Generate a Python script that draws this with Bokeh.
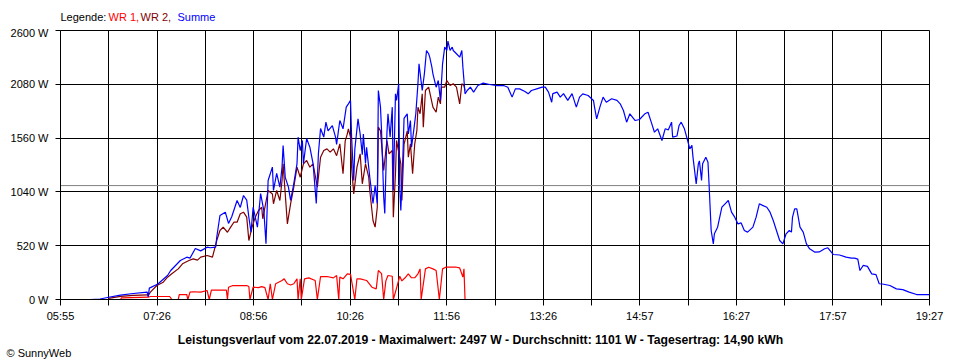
from bokeh.plotting import figure
from bokeh.layouts import column
from bokeh.models import Range1d, FixedTicker, Span, Label, Title
from bokeh.embed import file_html
from bokeh.resources import INLINE

# ---- axis definition (minutes since midnight) ----
x_start, x_end = 355, 1167          # 05:55 .. 19:27
x_tick_labels = ["05:55", "", "07:26", "", "08:56", "", "10:26", "", "11:56", "",
                 "13:26", "", "14:57", "", "16:27", "", "17:57", "", "19:27"]
y_ticks = [0, 520, 1040, 1560, 2080, 2600]
y_tick_labels = ["0 W", "520 W", "1040 W", "1560 W", "2080 W", "2600 W"]
average_w = 1101

title_text = ("Leistungsverlauf vom 22.07.2019 - Maximalwert: 2497 W - "
              "Durchschnitt: 1101 W - Tagesertrag: 14,90 kWh")
legend_texts = ["Legende:", "WR 1,", "WR 2,", "Summe"]
copyright_text = "\u00a9 SunnyWeb"

# ---- Summe (blue) ----
summe_t = [383, 392, 400, 411, 423, 436, 437, 438, 446, 455,
           458, 467, 473, 476, 481, 486, 492, 495, 500, 501,
           504, 509, 512, 515, 520, 523, 526, 529, 531, 533,
           535, 539, 542, 545, 547, 549, 553, 554, 557, 560,
           562, 563, 565, 568, 570, 573, 576, 577, 579, 581,
           582, 585, 588, 591, 594, 596, 598, 601, 603, 605,
           609, 612, 613, 616, 619, 622, 624, 626, 627, 629,
           630, 633, 635, 637, 638, 640, 641, 644, 647, 649,
           651, 652, 654, 655, 657, 658, 660, 661, 663, 665,
           666, 668, 669, 671, 672, 673, 675, 676, 679, 680,
           682, 683, 685, 687, 689, 690, 693, 695, 697, 699,
           700, 702, 703, 706, 708, 710, 712, 714, 716, 717,
           719, 721, 722, 725, 728, 730, 731, 733, 735, 738,
           741, 745, 750, 756, 763, 769, 773, 775, 777, 780,
           784, 789, 792, 795, 800, 805, 808, 811, 814, 815,
           819, 822, 825, 829, 833, 836, 837, 840, 843, 848,
           853, 854, 856, 859, 862, 865, 870, 875, 878, 881,
           884, 887, 892, 896, 901, 904, 907, 910, 913, 917,
           920, 923, 926, 927, 931, 933, 935, 938, 941, 943,
           945, 946, 949, 951, 952, 954, 955, 958, 960, 961,
           962, 963, 965, 966, 969, 973, 976, 979, 982, 985,
           988, 991, 994, 997, 1002, 1005, 1008, 1011, 1015, 1018,
           1021, 1024, 1027, 1030, 1033, 1036, 1038, 1039, 1041, 1043,
           1046, 1049, 1052, 1055, 1060, 1064, 1069, 1072, 1077, 1083,
           1089, 1094, 1097, 1100, 1102, 1105, 1109, 1113, 1117, 1120,
           1123, 1130, 1136, 1142, 1148, 1155, 1167]
summe_w = [0, 5, 22, 42, 58, 71, 25, 110, 150, 232,
           280, 377, 409, 400, 493, 470, 506, 500, 506, 602,
           812, 844, 735, 800, 957, 890, 1005, 960, 795, 650,
           892, 700, 1024, 860, 540, 1150, 1280, 1054, 1218, 1086,
           1280, 1488, 1180, 1086, 957, 1121, 1314, 1569, 1440, 1537,
           1314, 1556, 1472, 1314, 928, 1411, 1653, 1570, 1714, 1630,
           1680, 1569, 1500, 1730, 1650, 1859, 1891, 1924, 1569, 1150,
           1450, 1746, 1600, 1400, 1600, 1314, 1470, 1182, 928, 1100,
           928, 2020, 1859, 1630, 989, 831, 1604, 1795, 1570, 1859,
           1054, 1988, 1924, 2085, 1086, 860, 1400, 1750, 1795, 1600,
           1730, 1472, 1630, 1795, 2085, 2278, 2020, 2181, 2407, 2375,
           2342, 2246, 2181, 2052, 2117, 1924, 2278, 2439, 2407, 2497,
           2407, 2439, 2407, 2375, 2342, 2407, 2246, 1988, 2020, 2052,
           2004, 2068, 2091, 2078, 2068, 2068, 2052, 2004, 1956, 2036,
           2036, 2010, 1988, 2020, 2036, 2052, 2052, 2004, 1907, 1990,
           2004, 1956, 1990, 1924, 1990, 1891, 1859, 1956, 1988, 1972,
           1924, 1859, 1746, 1859, 1956, 1907, 1940, 1924, 1891, 1827,
           1714, 1795, 1730, 1740, 1795, 1810, 1714, 1617, 1650, 1537,
           1650, 1640, 1714, 1569, 1580, 1682, 1714, 1650, 1537, 1456,
           1490, 1376, 1118, 1311, 1340, 1150, 1311, 1376, 1327, 1118,
           892, 667, 538, 635, 699, 892, 925, 957, 844, 796,
           731, 740, 667, 651, 699, 796, 925, 910, 892, 844,
           764, 667, 570, 538, 635, 667, 651, 796, 876, 876,
           699, 651, 538, 490, 457, 460, 490, 500, 435, 430,
           409, 400, 400, 390, 280, 329, 320, 248, 240, 152,
           150, 135, 103, 95, 71, 48, 48]

# ---- WR 1 (red) ----
wr1_t = [411, 412, 437, 439, 457, 459, 465, 466, 473, 474,
         476, 479, 486, 492, 494, 496, 510, 511, 512, 516,
         529, 531, 532, 535, 540, 543, 546, 549, 551, 553,
         556, 562, 564, 567, 570, 573, 576, 577, 579, 580,
         583, 587, 593, 595, 598, 604, 610, 613, 615, 616,
         619, 623, 626, 630, 632, 635, 641, 646, 650, 652,
         655, 657, 659, 661, 665, 666, 669, 672, 674, 677,
         680, 683, 686, 689, 691, 692, 696, 699, 703, 706,
         709, 712, 715, 725, 728, 731, 732, 733]
wr1_w = [0, 16, 22, 29, 29, 0, 0, 48, 48, 0,
         71, 75, 71, 87, 0, 90, 90, 0, 119, 135,
         135, 125, 0, 119, 115, 125, 115, 0, 152, 0,
         152, 184, 200, 152, 140, 152, 200, 0, 200, 0,
         200, 209, 184, 0, 222, 222, 209, 232, 0, 216,
         200, 248, 242, 0, 200, 200, 184, 119, 103, 280,
         250, 0, 180, 232, 225, 0, 110, 225, 180, 210,
         248, 210, 210, 248, 296, 0, 296, 312, 296, 280,
         0, 296, 312, 312, 305, 216, 296, 0]

# ---- WR 2 (dark red) ----
wr2_t = [400, 411, 423, 436, 437, 439, 445, 451, 455, 459,
         465, 469, 475, 479, 483, 486, 492, 497, 501, 504,
         507, 511, 514, 517, 520, 523, 526, 529, 531, 534,
         537, 540, 543, 544, 549, 553, 554, 557, 560, 562,
         563, 567, 570, 573, 576, 579, 582, 585, 588, 591,
         595, 598, 601, 604, 607, 610, 613, 616, 619, 621,
         623, 624, 626, 627, 629, 632, 635, 637, 640, 643,
         644, 647, 649, 651, 652, 654, 657, 660, 662, 665,
         666, 668, 669, 673, 674, 676, 679, 680, 682, 684,
         686, 688, 689, 691, 693, 694, 696, 699, 701, 703,
         706, 708, 710, 711, 714, 716, 719, 722, 725, 728,
         730, 732, 733]
wr2_w = [10, 30, 40, 45, 39, 71, 135, 167, 216, 248,
         296, 345, 377, 393, 380, 409, 425, 410, 570, 667,
         699, 650, 699, 747, 747, 828, 844, 796, 570, 699,
         796, 860, 892, 780, 1054, 1020, 925, 1054, 957, 1150,
         1311, 731, 925, 1086, 1279, 1182, 1311, 1344, 1279, 1311,
         1086, 1376, 1440, 1456, 1424, 1456, 1390, 1505, 1215, 1530,
         1601, 1650, 1570, 1279, 1021, 1279, 1408, 1118, 1311, 1182,
         1054, 764, 699, 892, 1666, 1630, 1247, 1537, 1408, 1440,
         796, 1215, 1537, 1311, 957, 1500, 1630, 1376, 1505, 1215,
         1505, 1634, 1859, 1795, 1988, 1666, 2020, 2052, 1956, 1859,
         1810, 1956, 1891, 2052, 2052, 2117, 2068, 2085, 2052, 1891,
         2085, 2068, 2020]

FONT = "Liberation Sans"
W = 960
LEFT, RIGHT = 60, 31      # frame borders shared by all three stacked figures


def text_strip(height):
    """A bare figure (no axes) used only to carry texts; its frame lines up with the chart."""
    f = figure(width=W, height=height, x_range=Range1d(0, W - LEFT - RIGHT),
               y_range=Range1d(0, 1),
               output_backend="svg", toolbar_location=None,
               x_axis_location=None, y_axis_location=None,
               min_border_left=LEFT, min_border_right=RIGHT,
               min_border_top=0, min_border_bottom=0)
    f.xgrid.visible = False
    f.ygrid.visible = False
    f.outline_line_color = None
    f.background_fill_color = "white"
    f.border_fill_color = "white"
    return f


# ---- header with the coloured legend line ----
HEAD_H = 26
head = text_strip(HEAD_H)
legend_colors = ["black", "#FF0000", "#800000", "#0000FF"]
legend_dx = [0, 48, 80, 117]
for txt, col, lx in zip(legend_texts, legend_colors, legend_dx):
    head.add_layout(Label(x=lx, y=HEAD_H - 16, x_units="screen", y_units="screen", text=txt,
                          text_color=col, text_font=FONT, text_font_size="11px",
                          text_baseline="alphabetic"))

# ---- main chart ----
n_ticks = len(x_tick_labels)
x_ticks = [round(x_start + k * (x_end - x_start) / (n_ticks - 1), 3) for k in range(n_ticks)]

MAIN_H = 300
p = figure(width=W, height=MAIN_H,
           x_range=Range1d(x_start, x_end), y_range=Range1d(0, 2600),
           output_backend="svg", toolbar_location=None,
           min_border_left=LEFT, min_border_right=RIGHT,
           min_border_top=4, min_border_bottom=27)
p.background_fill_color = "white"
p.border_fill_color = "white"
p.outline_line_color = "black"
p.outline_line_width = 1

p.xgrid.ticker = FixedTicker(ticks=x_ticks)
p.ygrid.ticker = FixedTicker(ticks=y_ticks)
for g in (p.xgrid, p.ygrid):
    g.grid_line_color = "black"
    g.grid_line_width = 1

p.xaxis.ticker = FixedTicker(ticks=x_ticks)
p.xaxis.major_label_overrides = {t: lab for t, lab in zip(x_ticks, x_tick_labels)}
p.yaxis.ticker = FixedTicker(ticks=y_ticks)
p.yaxis.major_label_overrides = {t: lab for t, lab in zip(y_ticks, y_tick_labels)}
for ax in (p.xaxis, p.yaxis):
    ax.axis_line_color = "black"
    ax.major_tick_line_color = "black"
    ax.minor_tick_line_color = None
    ax.major_tick_in = 0
    ax.major_label_text_font = FONT
    ax.major_label_text_font_size = "11px"
    ax.major_label_text_color = "black"
p.xaxis.major_tick_out = 6
p.xaxis.major_label_standoff = 4
p.yaxis.major_tick_out = 5
p.yaxis.major_label_standoff = 7

p.add_layout(Span(location=average_w, dimension="width", line_color="#808080",
                  line_width=1, level="underlay"))

p.line(wr1_t, wr1_w, line_color="#FF0000", line_width=1.2)
p.line(wr2_t, wr2_w, line_color="#800000", line_width=1.2)
p.line(summe_t, summe_w, line_color="#0000FF", line_width=1.2)

# ---- footer with the summary title and copyright ----
FOOT_H = 360 - HEAD_H - MAIN_H
foot = text_strip(FOOT_H)
# summary line: anchored to the top of the footer frame
foot.add_layout(Label(x=420, y=1, x_units="screen", y_units="data", y_offset=-13,
                      text=title_text, text_align="center", text_font=FONT,
                      text_font_size="12.2px", text_font_style="bold",
                      text_color="black", text_baseline="alphabetic"))
# copyright in the panel below the footer frame (may extend left of the frame)
foot.add_layout(Title(text=copyright_text, align="left", offset=-54, standoff=0,
                      vertical_align="top", text_font=FONT, text_font_size="11px",
                      text_font_style="normal", text_color="black"), "below")

layout = column(head, p, foot, spacing=0)
open("out.html", "w").write(file_html(layout, INLINE))
